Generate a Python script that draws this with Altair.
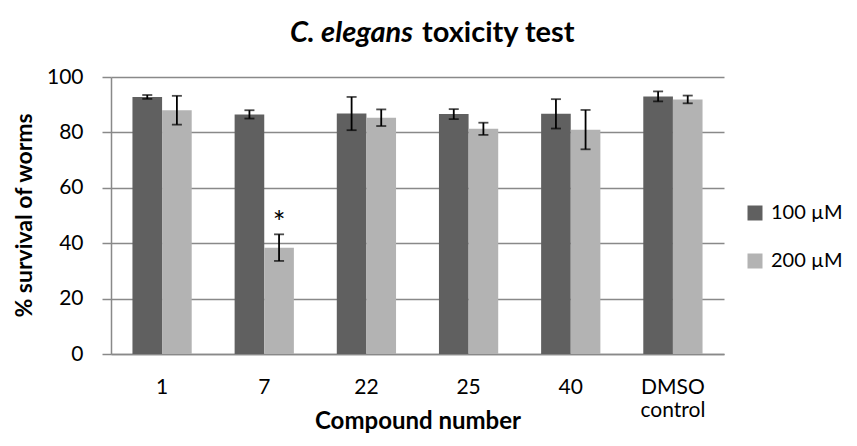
import altair as alt
import pandas as pd

compounds = ["1", "7", "22", "25", "40", "DMSO control"]
doses = ["100 µM", "200 µM"]
mean_100 = [92.8, 86.5, 86.8, 86.6, 86.7, 93.0]
err_100 = [0.7, 1.5, 6.0, 1.8, 5.3, 1.8]
mean_200 = [88.0, 38.4, 85.3, 81.3, 81.0, 91.9]
err_200 = [5.2, 4.8, 3.0, 2.2, 7.1, 1.4]
star_compound = ["7"]
star_dose = ["200 µM"]
star_y = [50]
y_ticks = [0, 20, 40, 60, 80, 100]

rows = []
for c, m, e in zip(compounds, mean_100, err_100):
    rows.append({"compound": c, "dose": doses[0], "mean": m, "lo": m - e, "hi": m + e})
for c, m, e in zip(compounds, mean_200, err_200):
    rows.append({"compound": c, "dose": doses[1], "mean": m, "lo": m - e, "hi": m + e})
df = pd.DataFrame(rows)
star_df = pd.DataFrame({"compound": star_compound, "dose": star_dose, "y": star_y, "t": ["*"]})
text_df = pd.DataFrame({"a": ["C. elegans"], "b": ["toxicity test"],
                        "xt": ["Compound number"], "yt": ["% survival of worms"]})

FONT = "Lato"
GRID = "#898989"

xenc = alt.X(
    "compound:N", sort=compounds,
    scale=alt.Scale(domain=compounds, paddingInner=0.42, paddingOuter=0.21),
    axis=alt.Axis(
        title=None,
        labelFont=FONT, labelFontSize=21, labelColor="black", labelAngle=0, labelPadding=22,
        labelExpr="datum.value == 'DMSO control' ? ['DMSO', 'control'] : datum.label",
        labelLineHeight=23,
        ticks=False, domainColor=GRID, domainWidth=1.5,
    ),
)
xoff = alt.XOffset("dose:N", sort=doses, scale=alt.Scale(domain=doses, paddingInner=0, paddingOuter=0))

base = alt.Chart(df).encode(x=xenc, xOffset=xoff)

bars = base.mark_bar().encode(
    y=alt.Y(
        "mean:Q", scale=alt.Scale(domain=[0, 100], nice=False),
        axis=alt.Axis(
            values=y_ticks, title=None,
            labelFont=FONT, labelFontSize=21, labelColor="black", labelPadding=19,
            tickSize=9, tickColor=GRID, tickWidth=1.5, domainColor=GRID, domainWidth=1.5,
            gridColor=GRID, gridWidth=1.5,
        ),
    ),
    color=alt.Color(
        "dose:N", sort=doses,
        scale=alt.Scale(domain=doses, range=["#606060", "#b3b3b3"]),
        legend=alt.Legend(
            title=None, orient="none", legendX=634, legendY=126,
            labelFont=FONT, labelFontSize=20, labelColor="black",
            symbolType="square", symbolSize=225, symbolStrokeWidth=0,
            rowPadding=28, labelOffset=6, labelLimit=200,
        ),
    ),
)

rules = base.mark_rule(color="black", strokeWidth=1.8).encode(y="lo:Q", y2="hi:Q")
cap_hi = base.mark_tick(color="black", size=10, thickness=1.8).encode(y="hi:Q")
cap_lo = base.mark_tick(color="black", size=10, thickness=1.8).encode(y="lo:Q")

star = alt.Chart(star_df).mark_text(font=FONT, fontSize=30, color="black", baseline="middle", dy=8).encode(
    x=alt.X("compound:N", sort=compounds), xOffset=alt.XOffset("dose:N", sort=doses), y="y:Q", text="t:N"
)

t1 = alt.Chart(text_df).mark_text(
    font=FONT, fontSize=29, fontWeight="bold", fontStyle="italic", align="right", baseline="alphabetic", color="black"
).encode(text="a:N", x=alt.value(302), y=alt.value(-35))
t2 = alt.Chart(text_df).mark_text(
    font=FONT, fontSize=29, fontWeight="bold", align="left", baseline="alphabetic", color="black"
).encode(text="b:N", x=alt.value(311), y=alt.value(-35))
xt = alt.Chart(text_df).mark_text(
    font=FONT, fontSize=24, fontWeight="bold", align="center", baseline="alphabetic", color="black"
).encode(text="xt:N", x=alt.value(307), y=alt.value(352))
yt = alt.Chart(text_df).mark_text(
    font=FONT, fontSize=23, fontWeight="bold", align="center", baseline="middle", angle=270, color="black"
).encode(text="yt:N", x=alt.value(-86), y=alt.value(138.5))

chart = alt.layer(bars, rules, cap_hi, cap_lo, star, t1, t2, xt, yt).properties(
    width=613, height=277,
    autosize=alt.AutoSizeParams(type="none"),
    padding={"left": 103, "top": 69, "right": 125, "bottom": 84},
    background="white",
).configure_view(stroke=None)

chart.save("out.html", embed_options={"renderer": "svg", "actions": False})
